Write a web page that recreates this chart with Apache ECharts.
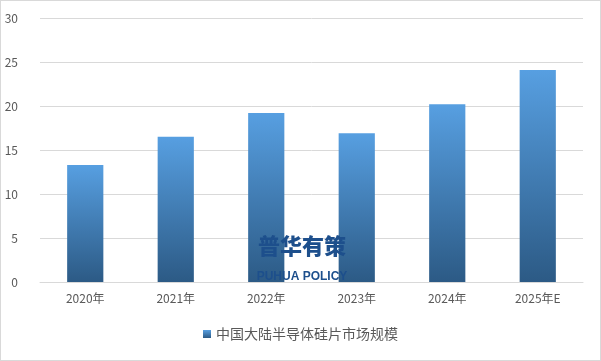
<!DOCTYPE html>
<html><head><meta charset="utf-8">
<script src="https://cdn.jsdelivr.net/npm/echarts@6/dist/echarts.min.js"></script>
<style>html,body{margin:0;padding:0;background:#fff}#c{width:599px;height:359px;border:1px solid #d9d9d9}</style>
</head><body><div id="c"></div>
<script>
const categories = ['2020年','2021年','2022年','2023年','2024年','2025年E'];
const values = [13.3, 16.5, 19.2, 16.9, 20.2, 24.1];
const seriesName = '中国大陆半导体硅片市场规模';
const yTicks = {min: 0, max: 30, interval: 5};

const chart = echarts.init(document.getElementById('c'));
const font = '"Microsoft YaHei","Noto Sans CJK SC",sans-serif';
chart.setOption({
  animation: false,
  grid: {left: 39, right: 17, top: 17, bottom: 78},
  legend: {
    bottom: 14, left: 'center', itemWidth: 8, itemHeight: 8, icon: 'rect', itemGap: 5,
    textStyle: {color: '#595959', fontSize: 14, fontFamily: font},
    data: [seriesName]
  },
  xAxis: {
    type: 'category', data: categories,
    axisLine: {lineStyle: {color: '#d9d9d9'}}, axisTick: {show: false},
    axisLabel: {color: '#595959', fontSize: 12, margin: 10, fontFamily: font}
  },
  yAxis: {
    type: 'value', min: yTicks.min, max: yTicks.max, interval: yTicks.interval,
    axisLine: {show: false}, axisTick: {show: false},
    splitLine: {lineStyle: {color: '#d9d9d9'}},
    axisLabel: {color: '#595959', fontSize: 12, margin: 22, fontFamily: font}
  },
  graphic: [
    {type: 'text', z: 100, x: 301, y: 234, style: {text: '普华有策', align: 'center', font: '900 22px "Noto Sans CJK SC"', fill: '#1d4f8c'}},
    {type: 'text', z: 100, x: 301, y: 270, style: {text: 'PUHUA POLICY', align: 'center', font: 'bold 12px "Liberation Sans",sans-serif', fill: '#1d4f8c'}}
  ],
  series: [{
    name: seriesName, type: 'bar', data: values, barWidth: '40%',
    itemStyle: {color: new echarts.graphic.LinearGradient(0,0,0,1,[
      {offset: 0, color: '#579fe1'}, {offset: 1, color: '#2c5a85'}])}
  }]
});
</script></body></html>
